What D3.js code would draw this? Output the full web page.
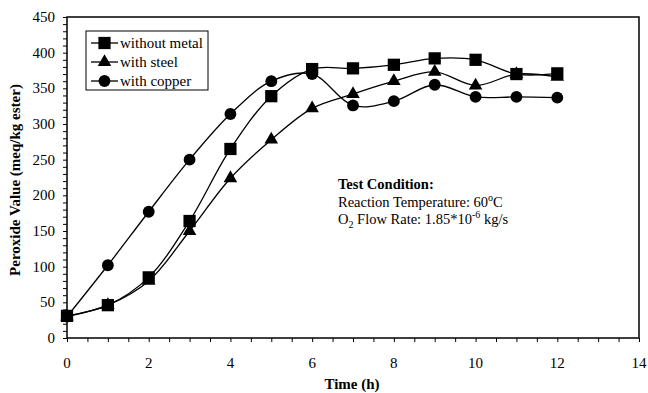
<!DOCTYPE html>
<html><head><meta charset="utf-8">
<script src="https://cdn.jsdelivr.net/npm/d3@7"></script>
<style>body{margin:0;background:#fff}svg{display:block}</style>
</head><body>
<script>
const times = [0,1,2,3,4,5,6,7,8,9,10,11,12];
const withoutMetal = [31,46,85,164,265,339,377,378,383,392,390,370,371];
const withSteel   = [30,46,80,150,224,278,322,342,360,373,354,370,366];
const withCopper  = [30,102,177,250,314,360,370,326,332,355,338,338,337];
const seriesNames = ["without metal","with steel","with copper"];
const xTicks = [0,2,4,6,8,10,12,14];
const yTicks = [0,50,100,150,200,250,300,350,400,450];

const W=648,H=393;
const svg=d3.select("body").append("svg").attr("width",W).attr("height",H)
  .style("font-family","'Liberation Serif','Times New Roman',serif");
const x=d3.scaleLinear().domain([0,14]).range([67,639]);
const y=d3.scaleLinear().domain([0,450]).range([338,17]);

// frame
svg.append("rect").attr("x",x(0)).attr("y",y(450)).attr("width",x(14)-x(0)).attr("height",y(0)-y(450))
  .attr("fill","none").attr("stroke","#000").attr("stroke-width",1.5);

// x axis
const xa=svg.append("g").attr("transform",`translate(0,${y(0)})`)
  .call(d3.axisBottom(x).tickValues(d3.range(0,14.01,0.5)).tickSize(4).tickFormat(""));
xa.select(".domain").remove();
xa.selectAll("line").attr("stroke","#000");
svg.append("g").selectAll("text").data(xTicks).join("text")
  .attr("x",d=>x(d)).attr("y",368).attr("text-anchor","middle")
  .attr("font-size",15).text(d=>d);

// y axis
const ya=svg.append("g").attr("transform",`translate(${x(0)},0)`)
  .call(d3.axisLeft(y).tickValues(d3.range(0,451,10)).tickSize(4).tickFormat(""));
ya.select(".domain").remove();
ya.selectAll("line").attr("stroke","#000");
svg.append("g").selectAll("text").data(yTicks).join("text")
  .attr("x",55).attr("y",d=>y(d)+5).attr("text-anchor","end")
  .attr("font-size",15).text(d=>d);

// axis titles
svg.append("text").attr("transform","translate(20,180) rotate(-90)").attr("text-anchor","middle")
  .attr("font-size",15).attr("font-weight","bold").text("Peroxide Value (meq/kg ester)");
svg.append("text").attr("x",352).attr("y",389).attr("text-anchor","middle")
  .attr("font-size",15).attr("font-weight","bold").text("Time (h)");

// series
const data=[withoutMetal,withSteel,withCopper];
const symbols=[d3.symbolSquare,d3.symbolTriangle,d3.symbolCircle];
const sizes=[150,80,110];
const line=d3.line().x((d,i)=>x(times[i])).y(d=>y(d)).curve(d3.curveCatmullRom.alpha(0.5));
data.forEach((vals,k)=>{
  svg.append("path").attr("d",line(vals)).attr("fill","none").attr("stroke","#000").attr("stroke-width",1.3);
});
data.forEach((vals,k)=>{
  svg.append("g").selectAll("path").data(vals).join("path")
    .attr("transform",(d,i)=>`translate(${x(times[i])},${y(d)})`)
    .attr("d",d3.symbol().type(symbols[k]).size(sizes[k])).attr("fill","#000");
});

// legend
const lg=svg.append("g");
lg.append("rect").attr("x",86).attr("y",31).attr("width",122).attr("height",59)
  .attr("fill","#fff").attr("stroke","#000").attr("stroke-width",1);
seriesNames.forEach((n,k)=>{
  const yy=43+k*19;
  lg.append("line").attr("x1",91).attr("x2",118).attr("y1",yy).attr("y2",yy).attr("stroke","#000").attr("stroke-width",1.3);
  lg.append("path").attr("transform",`translate(104.5,${yy})`).attr("d",d3.symbol().type(symbols[k]).size(sizes[k])).attr("fill","#000");
  lg.append("text").attr("x",120).attr("y",yy+5).attr("font-size",15).text(n);
});

// annotation
const an=svg.append("text").attr("font-size",14.5);
an.append("tspan").attr("x",338).attr("y",189).attr("font-weight","bold").text("Test Condition:");
an.append("tspan").attr("x",338).attr("y",207).text("Reaction Temperature: 60");
an.append("tspan").attr("dy",-6).attr("font-size",10).text("o");
an.append("tspan").attr("dy",6).text("C");
an.append("tspan").attr("x",338).attr("y",224).text("O");
an.append("tspan").attr("dy",4).attr("font-size",10).text("2");
an.append("tspan").attr("dy",-4).text(" Flow Rate: 1.85*10");
an.append("tspan").attr("dy",-6).attr("font-size",10).text("-6");
an.append("tspan").attr("dy",6).text(" kg/s");
</script>
</body></html>
